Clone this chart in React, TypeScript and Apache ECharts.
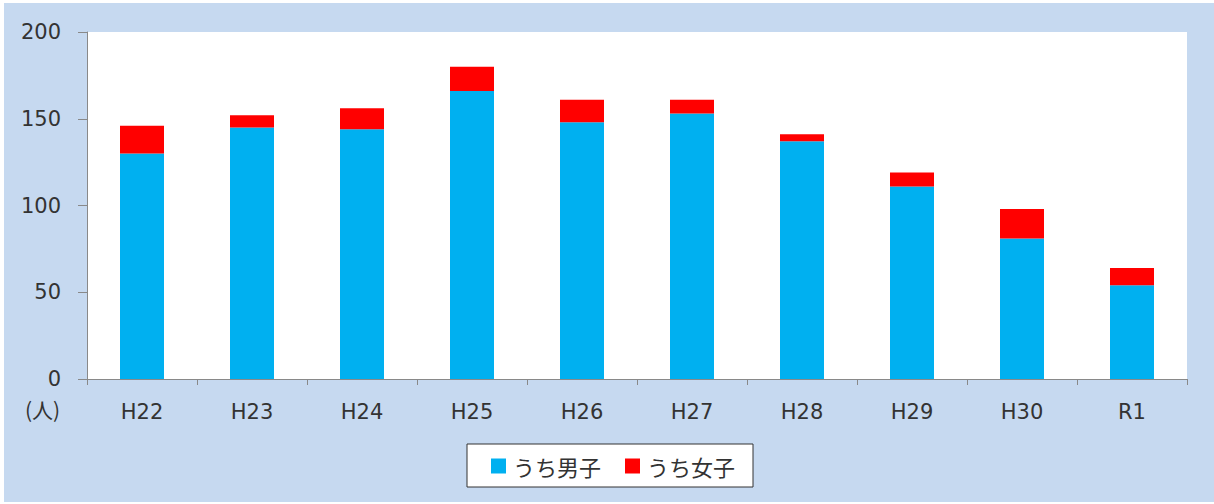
import React, { useEffect, useRef } from "react";
import * as echarts from "echarts";

const categories = ["H22", "H23", "H24", "H25", "H26", "H27", "H28", "H29", "H30", "R1"];
const boys = [130, 145, 144, 166, 148, 153, 137, 111, 81, 54];
const girls = [16, 7, 12, 14, 13, 8, 4, 8, 17, 10];
const yTicks = { min: 0, max: 200, interval: 50 };
const seriesNames = ["うち男子", "うち女子"];
const unitLabel = "(人)";

const FONT = "'DejaVu Sans', 'Noto Sans CJK JP', sans-serif";
const LEGEND_FONT = "'Noto Sans CJK JP', sans-serif";

export default function App() {
  const ref = useRef<HTMLDivElement>(null);
  useEffect(() => {
    if (!ref.current) return;
    const chart = echarts.init(ref.current, undefined, { renderer: "svg" });
    const axisColor = "#898989";
    chart.setOption({
      animation: false,
      backgroundColor: "transparent",
      graphic: [
        {
          type: "rect",
          z: -10,
          shape: { x: 4, y: 3, width: 1210, height: 499 },
          style: { fill: "#C6D9F0" },
          silent: true,
        },
        {
          type: "text",
          left: 25,
          top: 398,
          style: { text: unitLabel, fontSize: 21, fill: "#333", fontFamily: LEGEND_FONT },
        },
      ],
      grid: {
        left: 87,
        top: 32,
        right: 27,
        bottom: 125,
        show: true,
        backgroundColor: "#ffffff",
        borderWidth: 0,
      },
      legend: {
        data: seriesNames,
        left: 467,
        top: 444,
        backgroundColor: "#ffffff",
        borderColor: "#333333",
        borderWidth: 1,
        borderRadius: 0,
        padding: [11, 18, 10, 24],
        itemWidth: 15,
        itemHeight: 15,
        itemGap: 24,
        icon: "rect",
        textStyle: { fontSize: 22, color: "#333", fontFamily: LEGEND_FONT, padding: [0, 0, 0, 2] },
      },
      xAxis: {
        type: "category",
        data: categories,
        axisLine: { lineStyle: { color: axisColor, width: 1 } },
        axisTick: { show: true, length: 6, lineStyle: { color: axisColor } },
        axisLabel: { fontSize: 21, color: "#333", margin: 22, fontFamily: FONT },
      },
      yAxis: {
        type: "value",
        min: yTicks.min,
        max: yTicks.max,
        interval: yTicks.interval,
        splitLine: { show: false },
        axisLine: { show: true, lineStyle: { color: axisColor, width: 1 } },
        axisTick: { show: true, length: 9, lineStyle: { color: axisColor } },
        axisLabel: { fontSize: 21, color: "#333", margin: 26, fontFamily: FONT },
      },
      series: [
        {
          name: seriesNames[0],
          type: "bar",
          stack: "total",
          data: boys,
          barWidth: "40%",
          itemStyle: { color: "#00B0F0" },
        },
        {
          name: seriesNames[1],
          type: "bar",
          stack: "total",
          data: girls,
          barWidth: "40%",
          itemStyle: { color: "#FF0000" },
        },
      ],
    });
    return () => chart.dispose();
  }, []);
  return (
    <div
      style={{ position: "absolute", left: 0, top: 0, width: 1214, height: 504, background: "#ffffff" }}
    >
      <div ref={ref} style={{ width: 1214, height: 504 }} />
    </div>
  );
}
